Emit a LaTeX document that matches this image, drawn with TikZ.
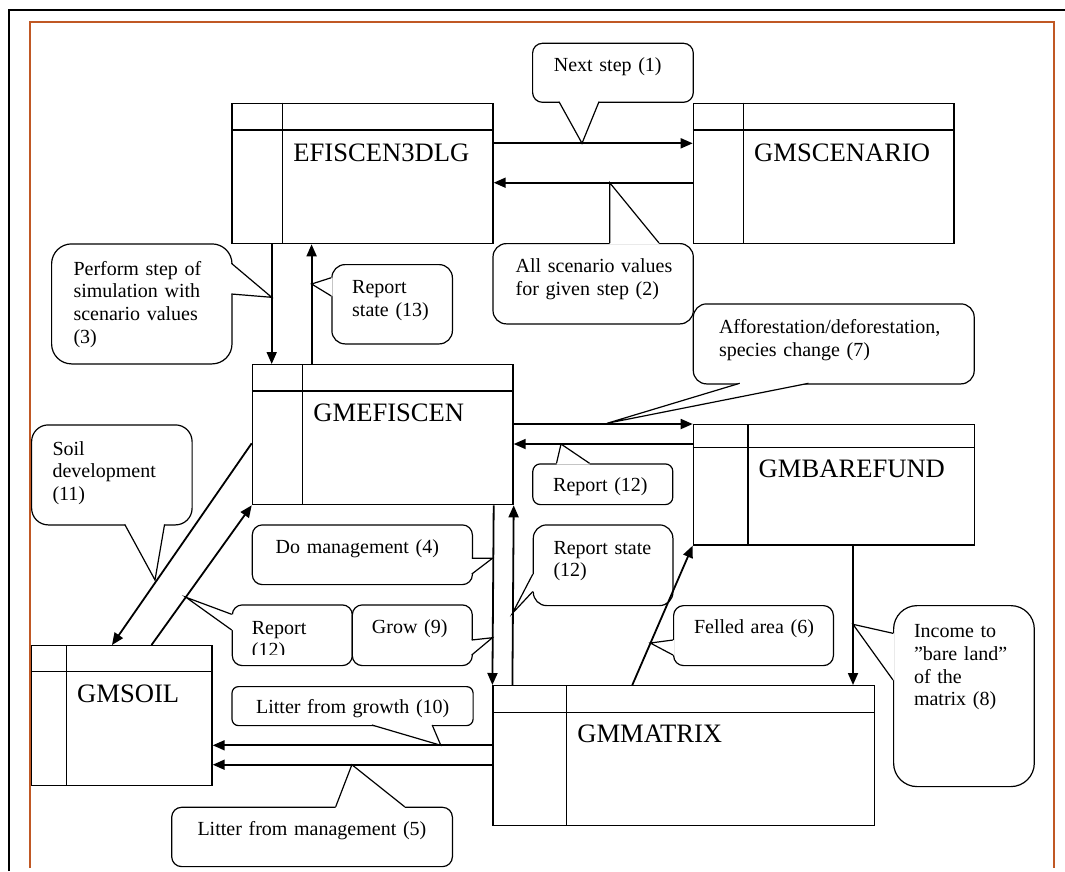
\documentclass[tikz,border=0pt]{standalone}
\usepackage{fontspec}
\setmainfont{Liberation Serif}
\usetikzlibrary{arrows.meta,calc}
\definecolor{frameorange}{RGB}{192,88,36}
\newcommand{\titlefnt}{\fontsize{26.6}{30}\selectfont}
\newcommand{\calloutfnt}{\fontsize{20}{22.7}\selectfont}
\tikzset{
  modbox/.style={draw, line width=1.3pt, rectangle, inner sep=0pt, anchor=north west, fill=white},
  boxline/.style={line width=1.3pt},
  titletext/.style={anchor=base west, inner sep=0pt, font=\titlefnt},
  cbox/.style={draw, line width=1.2pt, rectangle, inner sep=0pt, anchor=north west, fill=white},
  cedge/.style={line width=1.2pt, line join=miter},
  ctext/.style={anchor=base west, inner sep=0pt, text width=260pt, align=left, font=\calloutfnt},
  conn/.style={line width=1.8pt, -{Triangle[length=12pt,width=10pt]}},
}
% #1 name, #2 x, #3 y, #4 width, #5 height, #6 header, #7 divider, #8 title, #9 title baseline offset
\newcommand{\umlbox}[9]{%
  \node[modbox, minimum width=#4pt, minimum height=#5pt] (#1) at (#2,#3) {};
  \draw[boxline] ($(#1.north west)+(0,#6)$) -- ($(#1.north east)+(0,#6)$);
  \draw[boxline] ($(#1.north west)+(#7,0)$) -- ($(#1.south west)+(#7,0)$);
  \node[titletext] (#1-title) at ($(#1.north west)+(#7+10.5,#9)$) {#8};
}
% #1 name, #2 x, #3 y, #4 w, #5 h, #6 radius
\newcommand{\callbox}[6]{%
  \node[cbox, minimum width=#4pt, minimum height=#5pt, rounded corners=#6pt] (#1) at (#2,#3) {};
}
% #1 base1, #2 tip, #3 base2, #4 inward shift
\newcommand{\wedgeshape}[4]{%
  \fill[white] ($#1+#4$) -- #1 -- #2 -- #3 -- ($#3+#4$) -- cycle;
  \draw[cedge] #1 -- #2 -- #3;
}
\begin{document}
\begin{tikzpicture}[x=1pt,y=-1pt]
\useasboundingbox (0,0) rectangle (1065,871);
% frames
\draw[line width=1.8pt] (8.7,871) -- (8.7,10) -- (1065,10);
\draw[frameorange, line width=1.7pt] (29.7,868) -- (29.7,22) -- (1054,22) -- (1054,868);

% module boxes
\umlbox{efi}{231.4}{102.7}{261}{140.3}{27.3}{51.3}{EFISCEN3DLG}{59}
\umlbox{scen}{692.7}{102.7}{260.7}{140.3}{27.3}{50.8}{GMSCENARIO}{59}
\umlbox{gmef}{251.7}{364}{260.7}{140}{27}{51}{GMEFISCEN}{57.7}
\umlbox{bare}{692.7}{424}{280.9}{120.3}{23.3}{55.3}{GMBAREFUND}{53.7}
\umlbox{soil}{31}{645}{180.4}{140}{26.7}{35.5}{GMSOIL}{57.7}
\umlbox{mat}{492.4}{685}{381.1}{140}{27.7}{74.2}{GMMATRIX}{57.7}

% callouts
\callbox{cnext}{532}{42.7}{160.7}{59}{9.8}
\wedgeshape{(559,101.7)}{(582,143.3)}{(599,101.7)}{(0,-1.3)}
\node[ctext] (tnext) at (553.7,71.7) {Next step (1)};

\callbox{call}{492.4}{243}{200.3}{80.3}{13.4}
\wedgeshape{(609.7,243)}{(609.7,182.7)}{(659,243)}{(0,1.3)}
\node[ctext] (tall) at (515.5,272.7) {All scenario values\\for given step (2)};

\callbox{cperf}{51}{243.3}{180.4}{120}{20}
\wedgeshape{(231.4,263.3)}{(271.7,297.3)}{(231.4,294)}{(-1.3,0)}
\node[ctext] (tperf) at (73.3,275) {Perform step of\\simulation with\\scenario values\\(3)};

\callbox{crep13}{331.3}{264}{120.5}{79.3}{13.2}
\wedgeshape{(331.3,277.7)}{(311.6,284)}{(331.3,296)}{(1.3,0)}
\node[ctext] (trep13) at (352,293.3) {Report\\state (13)};

\callbox{caff}{692.7}{303.3}{280.9}{80}{13.3}
\wedgeshape{(739.7,383.3)}{(607,423.3)}{(808.5,383.3)}{(0,-1.3)}
\node[ctext] (taff) at (718.8,333.3) {Afforestation/deforestation,\\species change (7)};

\callbox{crep12r}{532.2}{463.3}{140}{40.7}{7.5}
\wedgeshape{(556.5,463.3)}{(561,444)}{(589.5,463.3)}{(0,1.3)}
\node[ctext] (trep12r) at (553,491.7) {Report (12)};

\callbox{csoil}{31}{424.3}{160.5}{100}{16.7}
\wedgeshape{(124.7,524.3)}{(155,580)}{(164.6,524.3)}{(0,-1.3)}
\node[ctext] (tsoil) at (52.3,455) {Soil\\development\\(11)};

\callbox{cman}{251.7}{524.3}{220.1}{59.7}{10}
\wedgeshape{(471.8,558.3)}{(492.4,558.3)}{(471.8,574)}{(-1.3,0)}
\node[ctext] (tman) at (275.5,553.3) {Do management (4)};

\callbox{crepst}{532.7}{524.3}{139.6}{80.7}{13.4}
\wedgeshape{(532.7,574.3)}{(512.4,613.3)}{(532.7,591.6)}{(1.3,0)}
\node[ctext] (trepst) at (553.3,554) {Report state\\(12)};

\callbox{crep12l}{231.7}{604.3}{120}{60.7}{10}
\wedgeshape{(231.7,614.3)}{(186,597.3)}{(231.7,630)}{(1.3,0)}
\begin{scope}
\clip (231.7,604.3) rectangle (351.7,654.5);
\node[ctext] (trep12l) at (251.7,634) {Report\\(12)};
\end{scope}

\callbox{cgrow}{351.7}{604.3}{120}{60.7}{10}
\wedgeshape{(471.7,640)}{(492.4,637.7)}{(471.7,655)}{(-1.3,0)}
\node[ctext] (tgrow) at (371.7,633.3) {Grow (9)};

\callbox{cfell}{673}{605}{159.8}{60}{10}
\wedgeshape{(673,640)}{(650.3,643)}{(673,655)}{(1.3,0)}
\node[ctext] (tfell) at (693.8,633.3) {Felled area (6)};

\callbox{cinc}{893}{605}{140.7}{181}{23.5}
\wedgeshape{(893,633.3)}{(853,624.3)}{(893,680)}{(1.3,0)}
\node[ctext] (tinc) at (913.8,637.7) {Income to\\”bare land”\\of the\\matrix (8)};

\callbox{cgrowth}{231.4}{686}{241.1}{39}{6.5}
\wedgeshape{(371.9,725)}{(440.8,745.3)}{(432.2,725)}{(0,-1.3)}
\node[ctext] (tgrowth) at (255.9,713.3) {Litter from growth (10)};

\callbox{clitman}{171.1}{806.7}{280.7}{59.3}{9.9}
\wedgeshape{(335.7,806.7)}{(351.9,764.7)}{(404.6,806.7)}{(0,1.3)}
\node[ctext] (tlitman) at (197.3,835) {Litter from management (5)};

% connectors
\draw[conn] ($(efi.north east)+(0,40.6)$) -- ($(scen.north west)+(0,40.6)$);
\draw[conn] ($(scen.north west)+(0,80)$) -- ($(efi.north east)+(0,80)$);
\draw[conn] ($(efi.south west)+(40.3,0)$) -- ($(gmef.north west)+(20,0)$);
\draw[conn] ($(gmef.north west)+(59.9,0)$) -- ($(efi.south west)+(80.2,0)$);
\draw[conn] ($(gmef.north east)+(0,60)$) -- (bare.north west);
\draw[conn] ($(bare.north west)+(0,20)$) -- ($(gmef.north east)+(0,80)$);
\draw[conn] ($(gmef.north west)+(0,79.3)$) -- ($(soil.north west)+(81,0)$);
\draw[conn] ($(soil.north west)+(120.5,0)$) -- (gmef.south west);
\draw[conn] ($(gmef.south east)+(-20,0)$) -- (mat.north west);
\draw[conn] ($(mat.north west)+(20,0)$) -- (gmef.south east);
\draw[conn] ($(mat.north west)+(139.9,0)$) -- (bare.south west);
\draw[conn] ($(bare.south west)+(160.3,0)$) -- ($(mat.north west)+(360.6,0)$);
\draw[conn] ($(mat.north west)+(0,60.3)$) -- ($(soil.north east)+(0,100.3)$);
\draw[conn] ($(mat.north west)+(0,79.7)$) -- ($(soil.north east)+(0,119.7)$);
\end{tikzpicture}
\end{document}
